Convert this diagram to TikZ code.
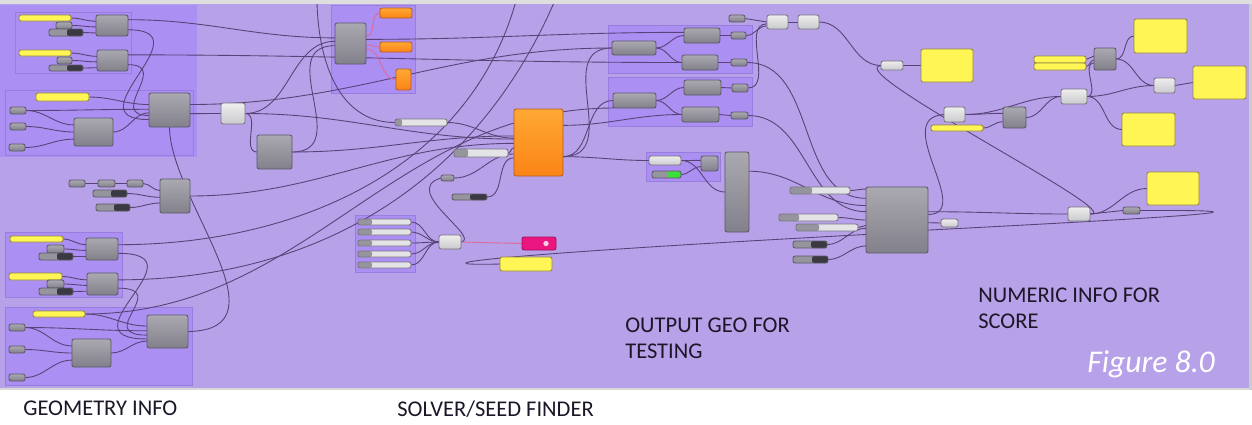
\documentclass[tikz,border=0pt]{standalone}
\usepackage{fontspec}
\setmainfont{Carlito}
\definecolor{canvasbg}{RGB}{183,161,232}
\definecolor{grpfill}{RGB}{172,143,243}
\definecolor{grpedge}{RGB}{152,124,222}
\definecolor{wirecol}{RGB}{88,66,118}
\definecolor{pinkwirecol}{RGB}{225,105,150}
\definecolor{comptop}{RGB}{170,169,177}
\definecolor{compbot}{RGB}{130,129,139}
\definecolor{compedge}{RGB}{92,88,104}
\definecolor{litetop}{RGB}{238,238,238}
\definecolor{litebot}{RGB}{202,202,206}
\definecolor{liteedge}{RGB}{120,116,130}
\definecolor{panelyel}{RGB}{255,246,85}
\definecolor{paneledge}{RGB}{150,138,70}
\definecolor{orngtop}{RGB}{255,168,52}
\definecolor{orngbot}{RGB}{250,132,22}
\definecolor{orngedge}{RGB}{182,92,44}
\definecolor{sliderbody}{RGB}{228,228,230}
\definecolor{knobgray}{RGB}{150,149,158}
\definecolor{knobdark}{RGB}{58,56,64}
\definecolor{ongreen}{RGB}{60,222,60}
\definecolor{pinkbtn}{RGB}{236,22,128}
\definecolor{labeltext}{RGB}{28,22,40}
\pgfdeclarelayer{background}
\pgfdeclarelayer{wires}
\pgfsetlayers{background,wires,main}
% one grasshopper box from its corners (pixel units)
\newcommand\ghbox[6]{\node[#2, minimum width={(#5-#3)*0.02cm}, minimum height={(#6-#4)*0.02cm}] (#1) at ({(#3+#5)/2},{(#4+#6)/2}) {};}

\begin{document}
\begin{tikzpicture}[x=0.02cm, y=-0.02cm,
	gh/.style={rectangle, inner sep=0pt, outer sep=0pt, line width=0.5pt, rounded corners=1.2pt},
	comp/.style={gh, draw=compedge, top color=comptop, bottom color=compbot},
	lite/.style={gh, draw=liteedge, top color=litetop, bottom color=litebot},
	panel/.style={gh, draw=paneledge, fill=panelyel},
	orng/.style={gh, draw=orngedge, top color=orngtop, bottom color=orngbot},
	slider/.style={gh, draw=liteedge, fill=sliderbody, path picture={\fill[knobgray] (path picture bounding box.south west) rectangle ([xshift=#1*0.02cm]path picture bounding box.north west);}},
	toggle/.style={gh, draw=compedge, fill=knobgray, path picture={\fill[knobdark] ([xshift=-#1*0.02cm]path picture bounding box.north east) rectangle (path picture bounding box.south east);}},
	greentog/.style={gh, draw=compedge, fill=knobgray, path picture={\fill[ongreen] ([xshift=-#1*0.02cm]path picture bounding box.north east) rectangle (path picture bounding box.south east);}},
	pinkbox/.style={gh, draw=pinkbtn!70!black, fill=pinkbtn, path picture={\fill[white, opacity=0.8] ([xshift=-0.2cm]path picture bounding box.east) circle (1.5pt);}},
	wire/.style={draw=wirecol, line width=0.5pt},
	pinkwire/.style={draw=pinkwirecol, line width=0.5pt},
	grp/.style={fill=grpfill, draw=grpedge, line width=0.4pt},
	lbl/.style={font=\fontsize{12.8}{15}\selectfont, text=labeltext, inner sep=0pt, anchor=base west},
	figlbl/.style={font=\fontsize{18}{20}\selectfont\itshape, text=white, inner sep=0pt, anchor=base west}]

	\useasboundingbox (0,0) rectangle (1252,424);

	% Canvas and groups
	\begin{pgfonlayer}{background}
		\fill[white] (0,0) rectangle (1252,424);
		\fill[black!13] (0,0) rectangle (1252,4);
		\fill[canvasbg] (0,4) rectangle (1249,388);
		\fill[black!20] (1249,4) rectangle (1252,390);
		\fill[black!15] (0,388) rectangle (1249,390);
		\fill[grpfill] (0,5) rectangle (197,157);
		\draw[grp] (15,12) rectangle (131,73);
		\draw[grp] (5,90) rectangle (193,155);
		\draw[grp] (5,232) rectangle (122,297);
		\draw[grp] (5,307) rectangle (192,385);
		\draw[grp] (331,5) rectangle (415,93);
		\draw[grp] (355,215) rectangle (415,272);
		\draw[grp] (608,25) rectangle (752,73);
		\draw[grp] (608,77) rectangle (752,126);
		\draw[grp] (646,152) rectangle (720,181);
	\end{pgfonlayer}

	% Geometry info
	\ghbox{yA1}{panel}{19}{15}{71}{21}
	\ghbox{kA1}{comp}{56}{22}{72}{29}
	\ghbox{tA1}{toggle=16}{49}{29}{83}{36}
	\ghbox{cA1}{comp}{96}{15}{128}{36}
	\ghbox{yA2}{panel}{19}{50}{71}{56}
	\ghbox{kA2}{comp}{57}{57}{72}{64}
	\ghbox{tA2}{toggle=16}{49}{65}{83}{71}
	\ghbox{cA2}{comp}{97}{50}{128}{71}
	\ghbox{yB}{panel}{36}{93}{89}{101}
	\ghbox{kB1}{comp}{10}{107}{26}{114}
	\ghbox{kB2}{comp}{10}{123}{26}{130}
	\ghbox{kB3}{comp}{9}{144}{25}{151}
	\ghbox{cB1}{comp}{74}{118}{113}{146}
	\ghbox{cB2}{comp}{149}{93}{190}{127}
	\ghbox{lB}{lite}{221}{103}{245}{124}
	\ghbox{cB3}{comp}{257}{135}{292}{169}
	\ghbox{kR1}{comp}{69}{180}{85}{187}
	\ghbox{kR2}{comp}{98}{180}{115}{187}
	\ghbox{kR3}{comp}{127}{180}{143}{187}
	\ghbox{tR1}{toggle=16}{93}{190}{127}{197}
	\ghbox{tR2}{toggle=16}{96}{204}{130}{211}
	\ghbox{cR}{comp}{160}{179}{190}{213}
	\ghbox{yC1}{panel}{10}{236}{63}{242}
	\ghbox{kC1}{comp}{47}{245}{64}{253}
	\ghbox{tC1}{toggle=16}{39}{253}{73}{260}
	\ghbox{cC1}{comp}{86}{238}{118}{260}
	\ghbox{yC2}{panel}{9}{273}{62}{280}
	\ghbox{kC2}{comp}{47}{280}{64}{288}
	\ghbox{tC2}{toggle=16}{39}{288}{73}{295}
	\ghbox{cC2}{comp}{87}{273}{118}{295}
	\ghbox{yD}{panel}{33}{311}{85}{317}
	\ghbox{kD1}{comp}{9}{324}{25}{331}
	\ghbox{kD2}{comp}{9}{346}{25}{353}
	\ghbox{kD3}{comp}{9}{374}{25}{381}
	\ghbox{cD1}{comp}{72}{339}{111}{367}
	\ghbox{cD2}{comp}{147}{315}{188}{348}

	% Solver / seed finder
	\ghbox{cE}{comp}{335}{23}{366}{64}
	\ghbox{oE1}{orng}{380}{8}{412}{18}
	\ghbox{oE2}{orng}{380}{42}{412}{52}
	\ghbox{oE3}{orng}{396}{69}{411}{90}
	\ghbox{sM1}{slider=7}{395}{119}{447}{126}
	\ghbox{sM2}{slider=14}{454}{149}{508}{157}
	\ghbox{oBig}{orng}{514}{109}{563}{176}
	\ghbox{kM}{comp}{441}{175}{454}{181}
	\ghbox{tM}{toggle=17}{452}{194}{487}{200}
	\foreach \n/\y in {1/219,2/229,3/240,4/251,5/262}{
		\ghbox{sH\n}{slider=14}{358}{\y}{411}{\y+6}
	}
	\ghbox{lH}{lite}{439}{235}{461}{249}
	\ghbox{pH}{pinkbox}{522}{237}{556}{250}
	\ghbox{yH}{panel}{500}{257}{552}{271}

	% Output geo for testing
	\ghbox{kT}{comp}{729}{15}{745}{22}
	\ghbox{lT1}{lite}{767}{15}{788}{29}
	\ghbox{lT2}{lite}{798}{15}{819}{29}
	\ghbox{cF1}{comp}{612}{41}{656}{55}
	\ghbox{cF2}{comp}{684}{28}{720}{43}
	\ghbox{cF3}{comp}{682}{55}{718}{70}
	\ghbox{kF1}{comp}{731}{32}{746}{39}
	\ghbox{kF2}{comp}{731}{59}{747}{66}
	\ghbox{cG1}{comp}{613}{93}{656}{108}
	\ghbox{cG2}{comp}{684}{80}{721}{95}
	\ghbox{cG3}{comp}{682}{107}{719}{122}
	\ghbox{kG1}{comp}{732}{84}{748}{92}
	\ghbox{kG2}{comp}{731}{112}{748}{119}
	\ghbox{lI}{lite}{649}{156}{681}{165}
	\ghbox{tI}{greentog=13}{652}{171}{681}{178}
	\ghbox{cI}{comp}{701}{156}{718}{171}
	\ghbox{cTall}{comp}{725}{152}{749}{232}
	\ghbox{sO1}{slider=22}{790}{187}{850}{194}
	\ghbox{sO2}{slider=20}{779}{214}{838}{221}
	\ghbox{sO3}{slider=23}{796}{224}{858}{231}
	\ghbox{tO1}{toggle=16}{793}{241}{827}{248}
	\ghbox{tO2}{toggle=16}{793}{256}{828}{263}
	\ghbox{cBig}{comp}{866}{187}{928}{253}

	% Numeric info for score
	\ghbox{lN1}{lite}{881}{61}{903}{70}
	\ghbox{yN1}{panel}{921}{49}{973}{82}
	\ghbox{ysN1}{panel}{1034}{56}{1086}{63}
	\ghbox{ysN2}{panel}{1034}{63}{1086}{70}
	\ghbox{cN1}{comp}{1094}{48}{1116}{70}
	\ghbox{yN2}{panel}{1134}{19}{1187}{53}
	\ghbox{lN2}{lite}{1154}{78}{1175}{93}
	\ghbox{yN3}{panel}{1193}{66}{1246}{99}
	\ghbox{lN3}{lite}{1061}{89}{1087}{104}
	\ghbox{yN4}{panel}{1122}{113}{1175}{146}
	\ghbox{lN4}{lite}{944}{107}{965}{122}
	\ghbox{ysN3}{panel}{931}{125}{983}{131}
	\ghbox{cN2}{comp}{1003}{107}{1026}{128}
	\ghbox{yN5}{panel}{1147}{172}{1199}{205}
	\ghbox{lN5}{lite}{941}{219}{958}{227}
	\ghbox{lN6}{lite}{1068}{207}{1090}{221}
	\ghbox{kN}{comp}{1123}{207}{1140}{214}

	\coordinate (topA) at (318,-30);
	\coordinate (topB) at (523,-30);
	\coordinate (topC) at (567,-30);

	% Wires
	\begin{pgfonlayer}{wires}
	\begin{scope}
		\clip (0,4) rectangle (1249,388);
		\foreach \g in {A1,A2,C1,C2} {
			\draw[wire] (y\g.east) to[out=0,in=180] (c\g.165);
			\draw[wire] (k\g.east) to[out=0,in=180] (c\g.185);
			\draw[wire] (t\g.east) to[out=0,in=180] (c\g.205);
		}
		\draw[wire] (cA1.20) to[out=0,in=180] (cE.160);
		\draw[wire] (cA1.-15) to[out=0,in=180,looseness=2.2] (cB2.205);
		\draw[wire] (cA2.20) to[out=0,in=180] (cF3.west);
		\draw[wire] (cA2.-15) to[out=0,in=180,looseness=2] (cB2.195);
		\draw[wire] (yB.east) to[out=0,in=180] (cB2.165);
		\draw[wire] (kB1.east) to[out=0,in=180] (cB2.178);
		\draw[wire] (kB1.east) to[out=0,in=180] (cB1.160);
		\draw[wire] (kB2.east) to[out=0,in=180] (cB1.180);
		\draw[wire] (kB3.east) to[out=0,in=180] (cB1.200);
		\draw[wire] (cB1.east) to[out=0,in=180] (cB2.188);
		\draw[wire] (cB2.15) to[out=0,in=180] (cF1.west);
		\draw[wire] (cB2.-10) to[out=0,in=180] (lB.west);
		\draw[wire] (cD2.east) .. controls (290,330) and (170,200) .. (cB2.south);
		\draw[wire] (lB.east) to[out=0,in=180] (oBig.172);
		\draw[wire] (lB.east) to[out=0,in=180] (cE.172);
		\draw[wire] (lB.east) to[out=0,in=180] (cB3.west);
		\draw[wire] (cB3.east) to[out=0,in=180] (oBig.165);
		\draw[wire] (cB3.east) to[out=0,in=180,looseness=1.4] (cE.188);
		\draw[wire] (kR1) -- (kR2);
		\draw[wire] (kR2) -- (kR3);
		\draw[wire] (kR3.east) to[out=0,in=180] (cR.160);
		\draw[wire] (tR1.east) to[out=0,in=180] (cR.185);
		\draw[wire] (tR2.east) to[out=0,in=180] (cR.205);
		\draw[wire] (cR.east) to[out=0,in=180] (oBig.182);
		\draw[wire] (cC1.15) to[out=0,in=-100] (topB);
		\draw[wire] (cC1.-15) to[out=0,in=180,looseness=2.5] (cD2.200);
		\draw[wire] (cC2.15) to[out=0,in=-110] (topC);
		\draw[wire] (cC2.-15) to[out=0,in=180,looseness=2.5] (cD2.190);
		\draw[wire] (yD.east) to[out=0,in=180] (cD2.165);
		\draw[wire] (yD.east) to[out=0,in=180] (cG1.200);
		\draw[wire] (kD1.east) to[out=0,in=180] (cD2.178);
		\draw[wire] (kD1.east) to[out=0,in=180] (cD1.160);
		\draw[wire] (kD2.east) to[out=0,in=180] (cD1.180);
		\draw[wire] (kD3.east) to[out=0,in=180] (cD1.200);
		\draw[wire] (cD1.east) to[out=0,in=180] (cD2.205);

		\draw[pinkwire] (cE.25) to[out=0,in=180] (oE1.west);
		\draw[pinkwire] (cE.-5) to[out=0,in=180] (oE2.west);
		\draw[pinkwire] (cE.-20) to[out=0,in=180] (oE3.west);
		\draw[wire] (cE.15) to[out=0,in=180] (cF2.170);
		\draw[wire] (topA) to[out=-95,in=180] (sM1.west);
		\draw[wire] (sM1.east) to[out=0,in=180] (oBig.170);
		\draw[wire] (sM2.east) to[out=0,in=180] (oBig.192);
		\draw[wire] (kM.east) to[out=0,in=180] (oBig.205);
		\draw[wire] (tM.east) to[out=0,in=180] (oBig.212);
		\foreach \n in {1,...,5}
			\draw[wire] (sH\n.east) to[out=0,in=180] (lH.west);
		\draw[pinkwire] (lH.east) -- (pH.west);
		\draw[wire] (lH.east) .. controls (482,238) and (400,190) .. (kM.west);
		\draw[wire] (cBig.205) .. controls (430,258) and (430,266) .. (yH.west);

		\draw[wire] (oBig.35) to[out=0,in=180] (cG3.west);
		\draw[wire] (oBig.-30) to[out=0,in=180] (lI.west);
		\draw[wire] (oBig.-30) to[out=0,in=180,looseness=1.3] (cF1.west);
		\draw[wire] (oBig.-30) to[out=0,in=180] (cG1.west);
		\foreach \g in {F,G} {
			\draw[wire] (c\g1.east) to[out=0,in=180] (c\g2.west);
			\draw[wire] (c\g1.east) to[out=0,in=180] (c\g3.west);
			\draw[wire] (c\g2.east) -- (k\g1.west);
			\draw[wire] (c\g3.east) -- (k\g2.west);
		}
		\draw[wire] (kT.east) -- (lT1.west);
		\draw[wire] (lT1.east) -- (lT2.west);
		\draw[wire] (kF1.east) to[out=0,in=180] (lT1.200);
		\draw[wire] (kG1.east) to[out=0,in=180] (lT1.190);
		\draw[wire] (lT2.east) to[out=0,in=180] (lN1.west);
		\draw[wire] (lI.east) to[out=0,in=180] (cI.160);
		\draw[wire] (tI.east) to[out=0,in=180] (cI.200);
		\draw[wire] (lI.east) to[out=0,in=180] (cTall.west);
		\draw[wire] (sO1.east) to[out=0,in=180] (cBig.135);
		\draw[wire] (kF2.east) to[out=0,in=180] (cBig.145);
		\draw[wire] (cTall.60) to[out=0,in=180] (cBig.155);
		\draw[wire] (kG2.east) to[out=0,in=180] (cBig.165);
		\draw[wire] (sO2.east) to[out=0,in=180] (cBig.180);
		\draw[wire] (sO3.east) to[out=0,in=180] (cBig.190);
		\draw[wire] (tO1.east) to[out=0,in=180] (cBig.195);
		\draw[wire] (tO2.east) to[out=0,in=180] (cBig.220);

		\draw[wire] (cBig.10) .. controls (975,214) and (890,118) .. (lN4.west);
		\draw[wire] (cBig.-5) -- (lN5.west);
		\draw[wire] (cBig.15) to[out=0,in=180] (lN6.west);
		\draw[wire] (cBig.-18) .. controls (1260,213) and (1260,210) .. (kN.east);
		\draw[wire] (lN6.east) -- (kN.west);
		\draw[wire] (lN6.east) to[out=0,in=180] (yN5.west);
		\draw[wire] (lN1.west) .. controls (840,70) and (1130,215) .. (lN6.east);
		\draw[wire] (lN1.east) -- (yN1.west);
		\draw[wire] (lN4.east) to[out=0,in=180] (cN2.160);
		\draw[wire] (ysN3.east) to[out=0,in=180] (cN2.200);
		\draw[wire] (lN4.east) to[out=0,in=180] (lN3.west);
		\draw[wire] (cN2.east) to[out=0,in=180] (lN3.west);
		\draw[wire] (lN3.east) to[out=0,in=180] (cN1.200);
		\draw[wire] (lN3.east) to[out=0,in=180] (lN2.west);
		\draw[wire] (lN3.east) to[out=0,in=180] (yN4.west);
		\draw[wire] (ysN1.east) to[out=0,in=180] (cN1.165);
		\draw[wire] (ysN2.east) to[out=0,in=180] (cN1.185);
		\draw[wire] (cN1.east) to[out=0,in=180] (yN2.west);
		\draw[wire] (cN1.east) to[out=0,in=180] (lN2.west);
		\draw[wire] (lN2.east) -- (yN3.west);
	\end{scope}
	\end{pgfonlayer}

	% Labels
	\node[lbl] (outLbl1) at (625,332) {OUTPUT GEO FOR};
	\node[lbl] (outLbl2) at (625,358) {TESTING};
	\node[lbl] (numLbl1) at (978,302) {NUMERIC INFO FOR};
	\node[lbl] (numLbl2) at (978,328) {SCORE};
	\node[figlbl] (figLbl) at (1087,372) {Figure 8.0};
	\node[lbl] (geoLbl) at (23,415) {GEOMETRY INFO};
	\node[lbl] (solverLbl) at (397,416) {SOLVER/SEED FINDER};

\end{tikzpicture}
\end{document}
